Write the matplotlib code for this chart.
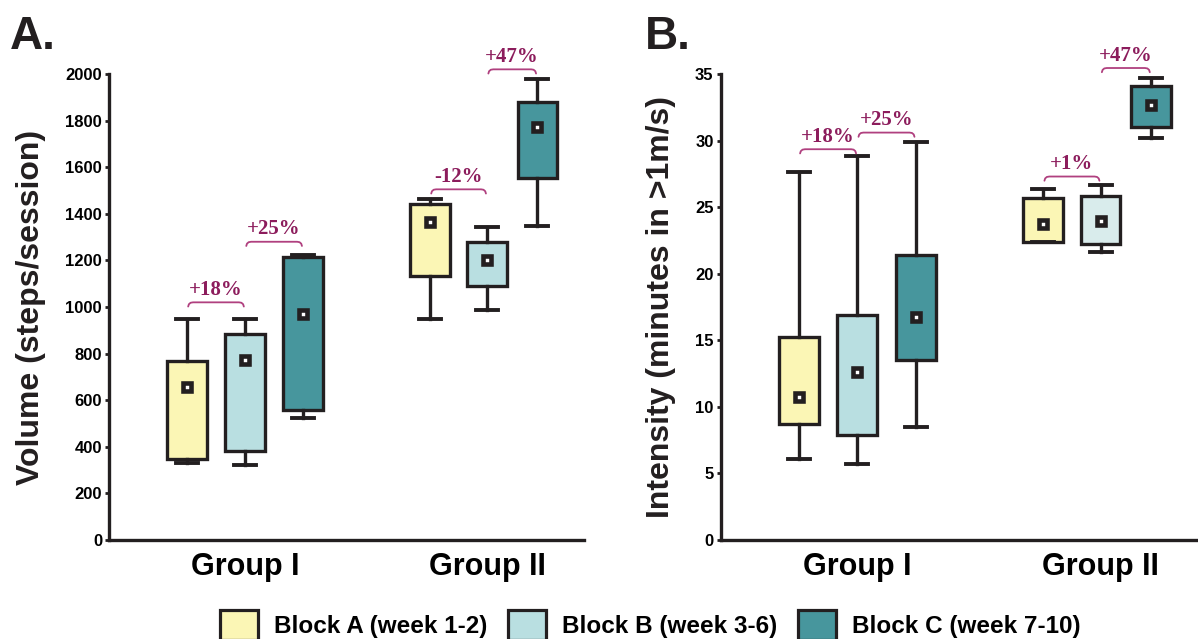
import matplotlib
matplotlib.use("Agg")
import matplotlib.pyplot as plt
from matplotlib.patches import Patch

plt.rcParams['font.family'] = ['Liberation Sans', 'DejaVu Sans']
plt.rcParams['font.weight'] = 'bold'

groups = ["Group I", "Group II"]
blocks = ["Block A (week 1-2)", "Block B (week 3-6)", "Block C (week 7-10)"]

# panel A: volume (steps/session), per group, per block
# [whisker low, q1, mean, q3, whisker high]
vol_g1 = [[330, 348, 655, 770, 949],
          [323, 380, 774, 882, 949],
          [523, 559, 972, 1216, 1223]]
vol_g2 = [[949, 1133, 1365, 1441, 1462],
          [986, 1092, 1200, 1280, 1345],
          [1348, 1553, 1771, 1881, 1978]]

# panel B: intensity (minutes in >1m/s)
int_g1 = [[6.07, 8.73, 10.74, 15.26, 27.65],
          [5.72, 7.90, 12.62, 16.88, 28.85],
          [8.48, 13.5, 16.76, 21.4, 29.86]]
int_g2 = [[22.38, 22.38, 23.71, 25.72, 26.34],
          [21.63, 22.2, 23.96, 25.8, 26.64],
          [30.18, 30.99, 32.67, 34.12, 34.7]]

# percentage changes: (group, from block, to block, label, bracket level)
vol_changes = [(0, 0, 1, "+18%", 1020), (0, 1, 2, "+25%", 1280),
               (1, 0, 1, "-12%", 1505), (1, 1, 2, "+47%", 2020)]
int_changes = [(0, 0, 1, "+18%", 29.35), (0, 1, 2, "+25%", 30.6),
               (1, 0, 1, "+1%", 27.3), (1, 1, 2, "+47%", 35.45)]

colors = ["#FBF6B5", "#B9DFE1", "#47969D"]
colors_b_g2 = ["#FBF6B5", "#D9ECEC", "#47969D"]
offsets = [[-0.24, 0, 0.24], [-0.236, 0, 0.207]]
DARK = "#231F20"
PCT_COLOR = "#8C1C5C"
BRACKET_COLOR = "#B0407F"

fig = plt.figure(figsize=(11.98, 6.39), dpi=100)
axA = fig.add_axes([0.09098, 0.15493, 0.39649, 0.72926])
axB = fig.add_axes([0.60142, 0.15493, 0.39858, 0.72926])


def box_stats(vals):
    lo, q1, mean, q3, hi = vals
    return dict(whislo=lo, q1=q1, med=q1, q3=q3, whishi=hi, mean=mean, fliers=[])


def positions(gi):
    return [gi + 1 + o for o in offsets[gi]]


def draw_panel(ax, data, ylim, yticks, ylabel, changes, facecols):
    for gi, gdata in enumerate(data):
        pos = positions(gi)
        bp = ax.bxp([box_stats(v) for v in gdata], positions=pos, widths=0.163,
                    capwidths=0.09, showmeans=True, patch_artist=True,
                    boxprops=dict(linewidth=2.4, edgecolor=DARK),
                    whiskerprops=dict(linewidth=2.4, color=DARK),
                    capprops=dict(linewidth=2.8, color=DARK),
                    medianprops=dict(linewidth=0),
                    meanprops=dict(marker='s', markersize=5.5, markerfacecolor='white',
                                   markeredgecolor=DARK, markeredgewidth=3.3))
        for patch, c in zip(bp['boxes'], facecols[gi]):
            patch.set_facecolor(c)
    ax.set_xlim(0.438, 2.40)
    ax.set_ylim(*ylim)
    ax.set_yticks(yticks)
    ax.set_xticks([1, 2])
    ax.set_xticklabels(groups, fontsize=22, fontweight='bold')
    ax.tick_params(axis='x', length=0, pad=9)
    ax.tick_params(axis='y', length=3, width=2, pad=2, labelsize=12, color=DARK)
    for lab in ax.get_yticklabels():
        lab.set_fontweight('bold')
    for s in ['top', 'right']:
        ax.spines[s].set_visible(False)
    for s in ['left', 'bottom']:
        ax.spines[s].set_linewidth(2.4)
        ax.spines[s].set_color(DARK)
    ax.set_ylabel(ylabel, fontsize=23, fontweight='bold', color=DARK)

    rng = ylim[1] - ylim[0]
    h = 0.009 * rng
    for gi, b0, b1, text, level in changes:
        pos = positions(gi)
        x0, x1 = pos[b0] + 0.005, pos[b1] - 0.005
        dx = 0.02
        xs = [x0, x0 + 0.15 * dx, x0 + 0.5 * dx, x0 + dx, x1 - dx, x1 - 0.5 * dx, x1 - 0.15 * dx, x1]
        ys = [level - h, level - 0.45 * h, level - 0.1 * h, level, level, level - 0.1 * h, level - 0.45 * h, level - h]
        ax.plot(xs, ys, color=BRACKET_COLOR, linewidth=1.3, clip_on=False, solid_capstyle='round')
        ax.annotate(text, xy=((x0 + x1) / 2, level), xytext=(0, 9), textcoords='offset points',
                    ha='center', va='center', fontsize=15, fontweight='bold',
                    family=['Liberation Serif', 'DejaVu Serif'], color=PCT_COLOR,
                    annotation_clip=False)


draw_panel(axA, [vol_g1, vol_g2], (0, 2000), range(0, 2001, 200),
           "Volume (steps/session)", vol_changes, [colors, colors])
axA.yaxis.set_label_coords(-0.133, 0.5)

draw_panel(axB, [int_g1, int_g2], (0, 35), range(0, 36, 5),
           "Intensity (minutes in >1m/s)", int_changes, [colors, colors_b_g2])
axB.yaxis.set_label_coords(-0.093, 0.5)

fig.text(10 / 1198, 1 - 49 / 639, "A.", fontsize=33, fontweight='bold', color=DARK, va='baseline')
fig.text(645 / 1198, 1 - 49 / 639, "B.", fontsize=33, fontweight='bold', color=DARK, va='baseline')

handles = [Patch(facecolor=c, edgecolor=DARK, linewidth=2.3) for c in colors]
fig.legend(handles, blocks, loc='center', bbox_to_anchor=(650 / 1198, 1 - 625 / 639),
           ncol=3, frameon=False, handlelength=1.56, handleheight=1.56,
           handletextpad=0.66, columnspacing=0.85, borderpad=0,
           prop=dict(weight='bold', size=17.5))

fig.savefig("out.png", dpi=100)
